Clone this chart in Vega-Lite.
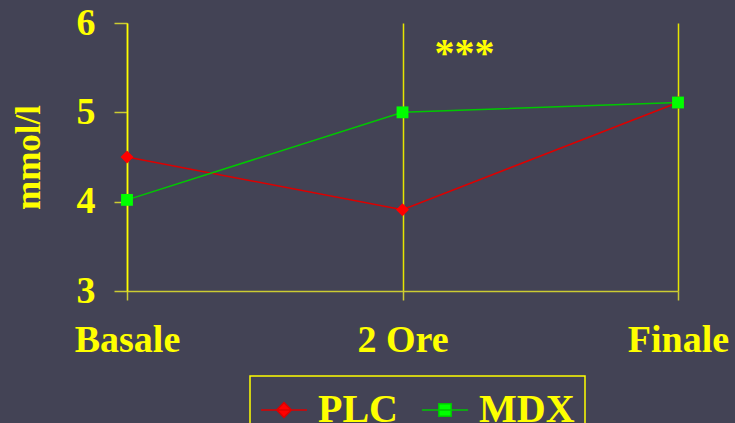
{
  "$schema": "https://vega.github.io/schema/vega-lite/v6.json",
  "width": 551,
  "height": 268,
  "autosize": "none",
  "padding": {"left": 127, "top": 23, "right": 57, "bottom": 132},
  "background": "#434355",
  "config": {"view": {"stroke": null}, "font": "Liberation Serif"},
  "layer": [
    {
      "data": {"values": [
        {"time": "Basale", "group": "PLC", "value": 4.5},
        {"time": "2 Ore", "group": "PLC", "value": 3.91},
        {"time": "Finale", "group": "PLC", "value": 5.11},
        {"time": "Basale", "group": "MDX", "value": 4.02},
        {"time": "2 Ore", "group": "MDX", "value": 5.0},
        {"time": "Finale", "group": "MDX", "value": 5.11}
      ]},
      "layer": [
        {
          "mark": {"type": "line", "strokeWidth": 1.5},
          "encoding": {
            "x": {"field": "time", "type": "ordinal", "sort": ["Basale", "2 Ore", "Finale"], "scale": {"padding": 0},
              "axis": {"title": null, "labelAngle": 0, "labelFont": "Liberation Serif", "labelFontSize": 38, "labelFontWeight": "bold", "labelColor": "#ffff00", "labelPadding": 21, "tickSize": 9, "tickColor": "#cccc33", "tickWidth": 1.5, "domainColor": "#cccc33", "domainWidth": 1.5, "grid": true, "gridColor": "#e6e600", "gridWidth": 1.5, "gridOpacity": 1}},
            "y": {"field": "value", "type": "quantitative", "scale": {"domain": [3, 6], "nice": false, "zero": false},
              "axis": {"title": "mmol/l", "values": [3, 4, 5, 6], "format": "d", "grid": false, "titleFont": "Liberation Serif", "titleFontSize": 35, "titleFontWeight": "bold", "titleColor": "#ffff00", "titlePadding": 30, "labelFont": "Liberation Serif", "labelFontSize": 38, "labelFontWeight": "bold", "labelColor": "#ffff00", "labelPadding": 19, "tickSize": 13, "tickColor": "#cccc33", "tickWidth": 1.5, "domainColor": "#ffff00", "domainWidth": 1.5}},
            "color": {"field": "group", "type": "nominal", "scale": {"domain": ["PLC", "MDX"], "range": ["#dd0000", "#00c800"]},
              "legend": {"title": null, "orient": "none", "legendX": 123, "legendY": 353, "direction": "horizontal", "strokeColor": "#ffff00", "padding": 10, "labelFont": "Liberation Serif", "labelFontSize": 40, "labelFontWeight": "bold", "labelColor": "#ffff00", "symbolSize": 2116, "symbolStrokeWidth": 1.5, "columnPadding": 21, "labelOffset": 10,
                "encode": {
                  "legend": {"update": {"strokeWidth": {"value": 1.5}}},
                  "symbols": {"update": {
                  "shape": {"signal": "datum.value === 'PLC' ? 'M-1,0H1M0,-0.32L0.32,0L0,0.32L-0.32,0Z' : 'M-1,0H1M-0.27,-0.27H0.27V0.27H-0.27Z'"},
                  "fill": {"signal": "datum.value === 'PLC' ? '#ff0000' : '#00ff00'"},
                  "fillOpacity": {"value": 1},
                  "stroke": {"signal": "datum.value === 'PLC' ? '#dd0000' : '#00c800'"}
                }}}}}
          }
        },
        {
          "transform": [{"filter": "datum.group === 'PLC'"}],
          "mark": {"type": "point", "shape": "diamond", "filled": true, "opacity": 1, "size": 170, "color": "#ff0000"},
          "encoding": {
            "x": {"field": "time", "type": "ordinal", "sort": ["Basale", "2 Ore", "Finale"]},
            "y": {"field": "value", "type": "quantitative"}
          }
        },
        {
          "transform": [{"filter": "datum.group === 'MDX'"}],
          "mark": {"type": "point", "shape": "square", "filled": true, "opacity": 1, "size": 140, "color": "#00ff00"},
          "encoding": {
            "x": {"field": "time", "type": "ordinal", "sort": ["Basale", "2 Ore", "Finale"]},
            "y": {"field": "value", "type": "quantitative"}
          }
        }
      ]
    },
    {
      "data": {"values": [{"time": "2 Ore", "value": 5.65, "label": "***"}]},
      "mark": {"type": "text", "dx": 62, "baseline": "middle", "fontSize": 40, "fontWeight": "bold", "font": "Liberation Serif", "color": "#ffff00"},
      "encoding": {
        "x": {"field": "time", "type": "ordinal", "sort": ["Basale", "2 Ore", "Finale"]},
        "y": {"field": "value", "type": "quantitative"},
        "text": {"field": "label"}
      }
    }
  ]
}
